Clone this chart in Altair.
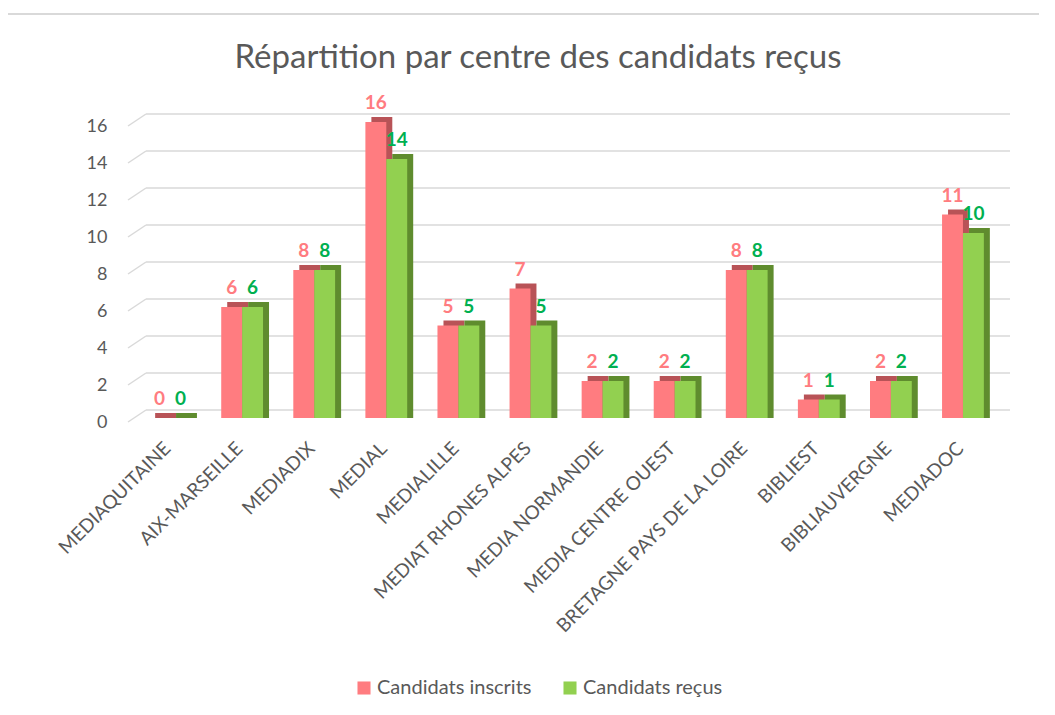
import json
import altair as alt
import pandas as pd

centres = ["MEDIAQUITAINE", "AIX-MARSEILLE", "MEDIADIX", "MEDIAL", "MEDIALILLE",
           "MEDIAT RHONES ALPES", "MEDIA NORMANDIE", "MEDIA CENTRE OUEST",
           "BRETAGNE PAYS DE LA LOIRE", "BIBLIEST", "BIBLIAUVERGNE", "MEDIADOC"]
inscrits = [0, 6, 8, 16, 5, 7, 2, 2, 8, 1, 2, 11]
recus = [0, 6, 8, 14, 5, 5, 2, 2, 8, 1, 2, 10]
series = ["Candidats inscrits", "Candidats reçus"]
fills = ["#FF7C80", "#92D050"]
sides = ["#B85357", "#5F8C2E"]
label_cols = ["#FF7C80", "#00B050"]
grid_vals = [0, 2, 4, 6, 8, 10, 12, 14, 16]
title_text = "Répartition par centre des candidats reçus"

rows = []
for i, c in enumerate(centres):
    for k, (s, vals, sd, lc) in enumerate(zip(series, [inscrits, recus], sides, label_cols)):
        rows.append({"centre": c, "idx": i, "k": k, "serie": s, "val": vals[i],
                     "side": sd, "lbl": lc})
df = pd.DataFrame(rows)
gdf = pd.DataFrame({"g": grid_vals})

W, H = 865, 296
FONT = "Lato"
GREY = "#595959"
BW = 0.29  # bar width in category units

yscale = alt.Scale(domain=[0, 16], nice=False)
xscale = alt.Scale(domain=[-0.5, len(centres) - 0.5], nice=False, zero=False)
label_expr = json.dumps(centres) + "[datum.value]"
xaxis = alt.Axis(values=list(range(len(centres))), labelExpr=label_expr,
                 labelAngle=-45, labelAlign="right", labelBaseline="middle",
                 labelFontSize=19, labelColor=GREY, labelFont=FONT, labelPadding=27,
                 labelOffset=-3, labelOverlap=False, domain=False, ticks=False,
                 grid=False, labelLimit=400, title=None)
yaxis = alt.Axis(values=grid_vals, grid=False, domain=False, ticks=False,
                 labelFontSize=18, labelColor=GREY, labelFont=FONT,
                 labelPadding=27, labelOffset=4, labelOverlap=False, title=None)

base = alt.Chart(df).transform_calculate(
    x0=f"datum.idx + (datum.k == 0 ? -{BW} : 0)",
    x1=f"datum.idx + (datum.k == 0 ? 0 : {BW})",
    xm=f"datum.idx + (datum.k == 0 ? -{BW/2} : {BW/2})",
)

grid_back = alt.Chart(gdf).mark_rule(color="#D9D9D9", strokeWidth=1.5, yOffset=-8).encode(
    y=alt.Y("g:Q", scale=yscale, axis=yaxis),
    x=alt.value(12), x2=alt.value(876))
grid_diag = alt.Chart(gdf).mark_rule(color="#D9D9D9", strokeWidth=1.5, yOffset=4, y2Offset=-8).encode(
    y=alt.Y("g:Q", scale=yscale, axis=yaxis), y2="g:Q", x=alt.value(-6), x2=alt.value(12))

top_line = alt.Chart(gdf.head(1)).mark_rule(color="#D9D9D9", strokeWidth=2).encode(
    x=alt.value(-129), x2=alt.value(925), y=alt.value(-108))

title = alt.Chart(gdf.head(1)).mark_text(text=title_text, fontSize=33, font=FONT,
                                        color=GREY, align="center", baseline="middle").encode(
    x=alt.value(404), y=alt.value(-64))

side = base.mark_bar(xOffset=6, x2Offset=6, yOffset=-5).encode(
    x=alt.X("x0:Q", scale=xscale, axis=xaxis),
    x2="x1:Q",
    y=alt.Y("val:Q", scale=yscale, axis=yaxis), y2=alt.datum(0),
    fill=alt.Fill("side:N", scale=None, legend=None))

front = base.mark_bar().encode(
    x=alt.X("x0:Q", scale=xscale, axis=xaxis), x2="x1:Q",
    y=alt.Y("val:Q", scale=yscale, axis=yaxis), y2=alt.datum(0),
    color=alt.Color("serie:N", sort=series, title=None,
                    scale=alt.Scale(domain=series, range=fills),
                    legend=alt.Legend(orient="none", legendX=220, legendY=556,
                                      direction="horizontal", symbolType="square",
                                      symbolSize=170, labelFontSize=20, labelColor=GREY,
                                      labelFont=FONT, columnPadding=28,
                                      symbolStrokeWidth=0, labelOffset=3)))

labels = base.mark_text(fontSize=19, fontWeight="bold", baseline="bottom", dy=-9,
                        font=FONT).encode(
    x=alt.X("xm:Q", scale=xscale, axis=xaxis),
    y=alt.Y("val:Q", scale=yscale, axis=yaxis),
    text="val:Q",
    fill=alt.Fill("lbl:N", scale=None, legend=None))

chart = alt.layer(top_line, title, grid_back, grid_diag, side, front, labels).properties(
    width=W, height=H,
    autosize=alt.AutoSizeParams(type="none"),
    padding={"left": 126, "top": 114, "right": 40, "bottom": 280},
).configure_view(stroke=None).resolve_scale(fill="independent")

chart.save("out.html", embed_options={"renderer": "svg", "actions": False})
